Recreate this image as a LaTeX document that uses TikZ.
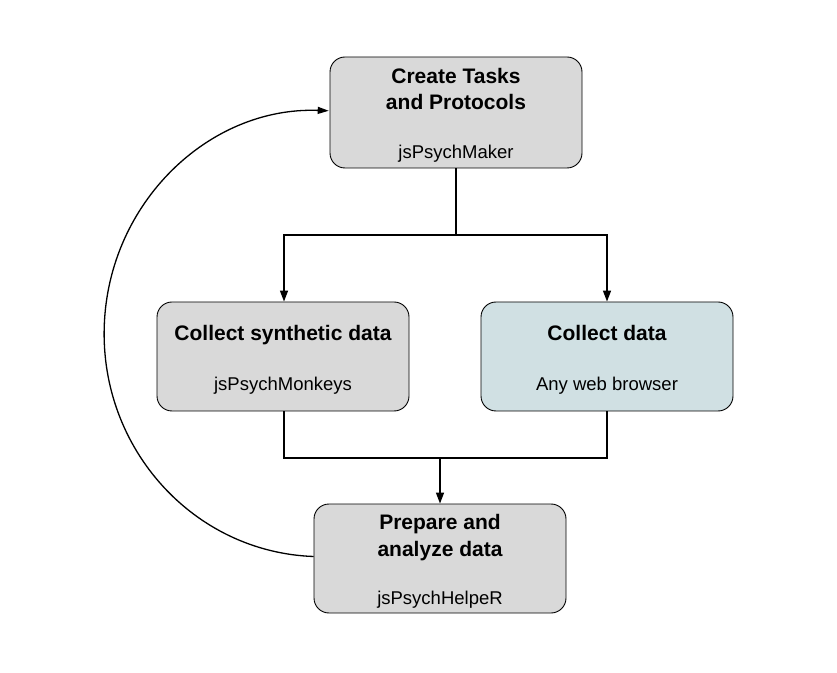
\documentclass[tikz,border=0pt]{standalone}
\usepackage{fontspec}
\setmainfont{Liberation Sans}
\usetikzlibrary{arrows.meta}
\definecolor{boxgray}{HTML}{D9D9D9}
\definecolor{boxcyan}{HTML}{D0E0E3}
\begin{document}
\begin{tikzpicture}[x=1pt,y=1pt,
  card/.style={draw=black,line width=0.9pt,rounded corners=15pt,minimum width=252pt,minimum height=110pt,inner sep=0pt,fill=boxgray},
  ttl/.style={anchor=base,font=\fontsize{21}{25}\selectfont\bfseries,inner sep=0pt},
  sub/.style={anchor=base,font=\fontsize{18.5}{22}\selectfont,inner sep=0pt},
  conn/.style={line width=1.5pt},
  arr/.style={line width=1.5pt,-{Triangle[length=11pt,width=8pt]}},
  loop/.style={line width=1.3pt,-{Triangle[length=11pt,width=7pt]}}
]
\useasboundingbox (0,0) rectangle (837,672);
\node[card,minimum height=111pt] (top) at (456,559.5) {};
\node[card,minimum height=109pt] (left) at (283,315.5) {};
\node[card,minimum height=109pt,fill=boxcyan] (right) at (607,315.5) {};
\node[card,minimum height=109pt] (bot) at (440,113.5) {};

\node[ttl] (t1) at (456,588) {Create Tasks};
\node[ttl] (t2) at (456,562) {and Protocols};
\node[sub] (t3) at (456,513) {jsPsychMaker};

\node[ttl] (l1) at (283,331) {Collect synthetic data};
\node[sub] (l2) at (283,281) {jsPsychMonkeys};

\node[ttl] (r1) at (607,331) {Collect data};
\node[sub] (r2) at (607,281) {Any web browser};

\node[ttl] (b1) at (440,143) {Prepare and};
\node[ttl] (b2) at (440,116) {analyze data};
\node[sub] (b3) at (440,68) {jsPsychHelpeR};

\coordinate (j1) at (456,437);
\coordinate (j2) at (440,214);
\draw[conn] (top.south) -- (j1);
\draw[arr] (j1) -| ([xshift=1pt]left.north);
\draw[arr] (j1) -| (right.north);
\draw[conn] ([xshift=1pt]left.south) |- (j2);
\draw[conn] (right.south) |- (j2);
\draw[arr] (j2) -- (bot.north);

\draw[loop] ([yshift=2pt]bot.west) arc[start angle=268, end angle=88, x radius=217, y radius=223];
\end{tikzpicture}
\end{document}
